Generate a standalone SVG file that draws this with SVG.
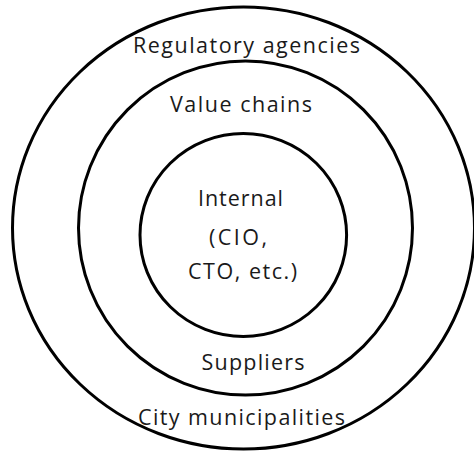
<svg xmlns="http://www.w3.org/2000/svg" width="474" height="455" viewBox="0 0 474 455">
  <style>
    .ring { fill: none; stroke: #000; stroke-width: 3; }
    .lbl { font-family: "Open Sans", "Noto Sans", "Liberation Sans", sans-serif; font-size: 21.5px; fill: #1a1a1a; text-anchor: middle; }
  </style>
  <rect width="474" height="455" fill="#fff"/>
  <g id="outer">
    <ellipse class="ring" cx="243.5" cy="228" rx="231" ry="221"/>
    <text class="lbl" x="246.5" y="53" textLength="227">Regulatory agencies</text>
    <text class="lbl" x="241.5" y="425" textLength="207">City municipalities</text>
  </g>
  <g id="middle">
    <ellipse class="ring" cx="245.5" cy="228" rx="167" ry="167"/>
    <text class="lbl" x="241" y="112" textLength="142">Value chains</text>
    <text class="lbl" x="253" y="370" textLength="103">Suppliers</text>
  </g>
  <g id="inner">
    <ellipse class="ring" cx="243.3" cy="235" rx="103.3" ry="101.5"/>
    <text class="lbl" x="240.5" y="206" textLength="85">Internal</text>
    <text class="lbl" x="238" y="245" textLength="58">(CIO,</text>
    <text class="lbl" x="242.5" y="279" textLength="109">CTO, etc.)</text>
  </g>
  <g id="connectors"/>
</svg>
